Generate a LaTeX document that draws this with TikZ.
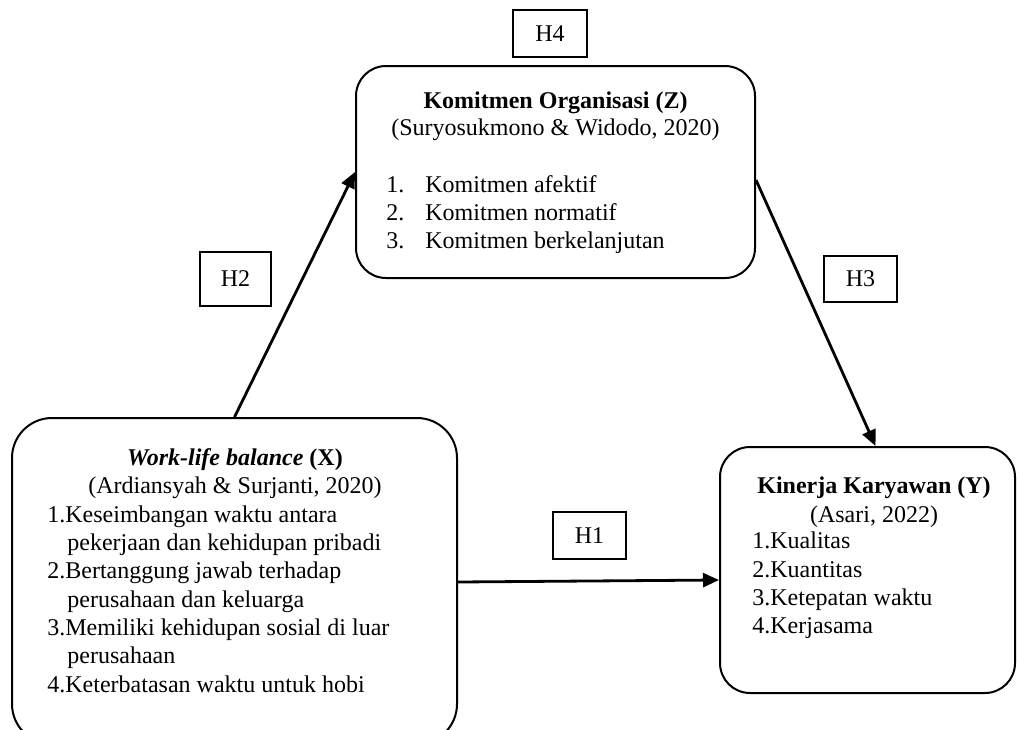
\documentclass[tikz,border=0pt]{standalone}
\usepackage{fontspec}
\setmainfont{Liberation Serif}
\usetikzlibrary{arrows.meta,calc}
\begin{document}
\begin{tikzpicture}[x=0.5pt,y=-0.5pt,
  box/.style={draw, line width=1pt, rounded corners=15pt, inner sep=0pt},
  hbox/.style={draw, line width=0.8pt, inner sep=0pt, font=\fontsize{12}{14}\selectfont},
  txt/.style={inner sep=0pt, font=\fontsize{12}{13.8}\selectfont},
  arr/.style={line width=1.4pt, -{Triangle[length=8pt,width=7pt]}}]
\clip (0,0) rectangle (1017,729);
% main boxes
\node[box, minimum width=199.5pt, minimum height=106pt] (Z) at (555.5,172) {};
\node[box, rounded corners=20pt, minimum width=222.5pt, minimum height=163pt] (X) at (234.5,581) {};
\node[box, minimum width=147.5pt, minimum height=123pt] (Y) at (867.5,570) {};
% hypothesis boxes
\node[hbox, minimum width=37pt, minimum height=23.5pt] (h4) at (550,33.5) {H4};
\node[hbox, minimum width=35.5pt, minimum height=27pt] (h2) at (235.5,279) {H2};
\node[hbox, minimum width=36.5pt, minimum height=23pt] (h3) at (860.5,279) {H3};
\node[hbox, minimum width=36.5pt, minimum height=23.5pt] (h1) at (589.5,535.5) {H1};
% arrows
\draw[arr] (X.north) -- (Z.west);
\draw[arr] ([yshift=-4pt]Z.east) -- ([xshift=4pt]Y.north);
\draw[arr] ([yshift=-0.5pt]X.east) -- ([yshift=-5pt]Y.west);
% Z text
\node[txt, anchor=base] (zt) at (555.5,108) {\bfseries Komitmen Organisasi (Z)};
\node[txt, anchor=base] (zs) at (555.5,135) {(Suryosukmono \& Widodo, 2020)};
\node[txt, anchor=base west] (z1) at (386,192) {\makebox[19.5pt][l]{1.}Komitmen afektif};
\node[txt, anchor=base west] (z2) at (386,220) {\makebox[19.5pt][l]{2.}Komitmen normatif};
\node[txt, anchor=base west] (z3) at (386,248) {\makebox[19.5pt][l]{3.}Komitmen berkelanjutan};
% X text
\node[txt, anchor=base] (xt) at (235,465) {\bfseries\itshape Work-life balance \upshape(X)};
\node[txt, anchor=base] (xs) at (235,493) {(Ardiansyah \& Surjanti, 2020)};
\node[txt, anchor=base west] (x1) at (47,522) {1.Keseimbangan waktu antara};
\node[txt, anchor=base west] (x1b) at (67,550) {pekerjaan dan kehidupan pribadi};
\node[txt, anchor=base west] (x2) at (47,578) {2.Bertanggung jawab terhadap};
\node[txt, anchor=base west] (x2b) at (67,607) {perusahaan dan keluarga};
\node[txt, anchor=base west] (x3) at (47,635) {3.Memiliki kehidupan sosial di luar};
\node[txt, anchor=base west] (x3b) at (67,663) {perusahaan};
\node[txt, anchor=base west] (x4) at (47,692) {4.Keterbatasan waktu untuk hobi};
% Y text
\node[txt, anchor=base] (yt) at (874,493) {\bfseries Kinerja Karyawan (Y)};
\node[txt, anchor=base] (ys) at (874,522) {(Asari, 2022)};
\node[txt, anchor=base west] (y1) at (752,548) {1.Kualitas};
\node[txt, anchor=base west] (y2) at (752,577) {2.Kuantitas};
\node[txt, anchor=base west] (y3) at (752,605) {3.Ketepatan waktu};
\node[txt, anchor=base west] (y4) at (752,633) {4.Kerjasama};
\end{tikzpicture}
\end{document}
